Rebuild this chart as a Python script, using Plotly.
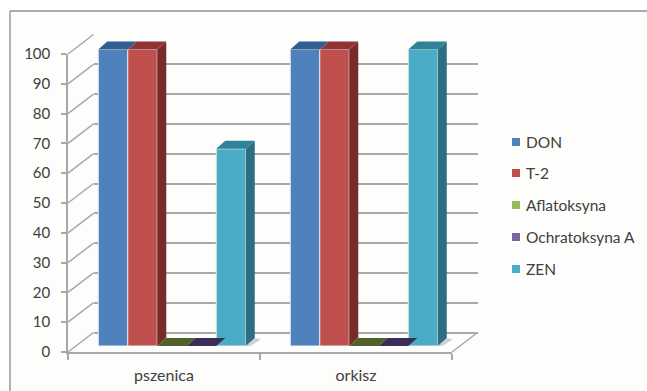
import plotly.graph_objects as go

# Chart data
categories = ["pszenica", "orkisz"]
series_names = ["DON", "T-2", "Aflatoksyna", "Ochratoksyna A", "ZEN"]
don = [100, 100]
t2 = [100, 100]
aflatoksyna = [0, 0]
ochratoksyna = [0, 0]
zen = [66.5, 100]
series_values = [don, t2, aflatoksyna, ochratoksyna, zen]

front_colors = ["#4f81bd", "#c0504d", "#9bbb59", "#8064a2", "#4bacc6"]
top_colors = ["#2f5f93", "#8f3533", "#4f6228", "#3c2c58", "#2e8496"]
side_colors = ["#2f5f93", "#772c2a", "#4f6228", "#3c2c58", "#2b6e85"]
y_ticks = list(range(0, 101, 10))

# Page and panel geometry, in pixels
W, H = 647, 391
PANEL_L, PANEL_T = 10, 11
FRONT_L, FRONT_R = 68, 452      # front edge of the floor
FRONT_BOTTOM, FRONT_TOP = 352, 54
BACK_DX, BACK_DY = 25.5, -19.5  # back wall relative to front edge
BAR_DX = 8                      # bar faces relative to front edge
BAR_BOTTOM, BAR_TOP = 346, 49.5 # pixel rows of value 0 and value 100 on the bar plane
BAR_DEPTH_X, BAR_DEPTH_Y = 9, 8 # extrusion of each bar
BARGAP = 0.232
BAR_HEADROOM = 10               # value units kept above 100 for the bar tops

GRID = "#a8a8a8"
TEXT = "#404040"
FONT = "Lato"


def px(x):
    return x / W


def py(y):
    return 1 - y / H


def dom_x(shift):
    return [px(FRONT_L + shift), px(FRONT_R + shift)]


def dom_y(shift):
    return [py(FRONT_BOTTOM + shift), py(FRONT_TOP + shift)]


cat_px = (FRONT_R - FRONT_L) / len(categories)
val_px = (FRONT_BOTTOM - FRONT_TOP) / 100
bar_val_px = (BAR_BOTTOM - BAR_TOP) / 100

fig = go.Figure()

# The back wall subplot needs a trace for its grid to be drawn
fig.add_trace(go.Scatter(
    x=[0, 1], y=[None, None], mode="markers", xaxis="x", yaxis="y",
    showlegend=False, hoverinfo="skip",
))

# Bar faces sit on their own plane, between front edge and back wall
for name, vals, col in zip(series_names, series_values, front_colors):
    fig.add_trace(go.Bar(
        x=list(range(len(categories))), y=vals, name=name,
        marker=dict(color=col, line=dict(color="#e6e9ee", width=1)),
        xaxis="x2", yaxis="y2", showlegend=False,
    ))

# Extruded top and side faces derived from the same values
dep_x = BAR_DEPTH_X / cat_px
dep_y = BAR_DEPTH_Y / bar_val_px
bar_w = (1 - BARGAP) / len(series_names)


def face(xs, ys, color):
    fig.add_trace(go.Scatter(
        x=xs, y=ys, mode="lines", fill="toself", fillcolor=color,
        line=dict(width=0, color=color), xaxis="x2", yaxis="y2",
        cliponaxis=False, showlegend=False, hoverinfo="skip",
    ))


for s, vals in enumerate(series_values):
    for c, v in enumerate(vals):
        left = c + (s - (len(series_names) - 1) / 2) * bar_w - bar_w / 2
        right = left + bar_w
        # A side face only shows when the next bar is not as tall
        next_v = series_values[s + 1][c] if s + 1 < len(series_values) else 0
        if v > next_v:
            if s == len(series_values) - 1:
                # Soft shadow cast on the floor
                face([right, right + 0.5 * dep_x, right + 1.7 * dep_x, right + dep_x, right],
                     [0, 0, 0.85 * dep_y, dep_y, 0], "#cfcfcf")
            face([right, right + dep_x, right + dep_x, right, right],
                 [0, dep_y, v + dep_y, v, 0], side_colors[s])
        face([left, right, right + dep_x, left + dep_x, left],
             [v, v, v + dep_y, v + dep_y, v], top_colors[s])

# Anchor the front axes to a trace so the category ticks are drawn
fig.add_trace(go.Scatter(
    x=categories, y=[None, None], mode="markers", xaxis="x3", yaxis="y3",
    showlegend=False, hoverinfo="skip",
))

# Panel background with its left and top rules
shapes = [
    dict(type="rect", xref="paper", yref="paper", layer="below",
         x0=px(PANEL_L), x1=1, y0=py(H - 3), y1=py(PANEL_T),
         fillcolor="#fdfdfb", line=dict(width=0)),
    dict(type="line", xref="paper", yref="paper", layer="below",
         x0=px(PANEL_L), x1=px(PANEL_L), y0=0, y1=py(PANEL_T),
         line=dict(color="#9a9a9a", width=1.5)),
    dict(type="line", xref="paper", yref="paper", layer="below",
         x0=px(PANEL_L), x1=1, y0=py(PANEL_T), y1=py(PANEL_T),
         line=dict(color="#8f8f8f", width=1.5)),
]

# Side wall and floor lines, drawn under the bars
for t in y_ticks:
    y = FRONT_BOTTOM - t * val_px
    shapes.append(dict(
        type="line", xref="paper", yref="paper", layer="below",
        x0=px(FRONT_L), y0=py(y), x1=px(FRONT_L + BACK_DX), y1=py(y + BACK_DY),
        line=dict(color=GRID, width=1.5),
    ))
shapes.append(dict(
    type="line", xref="paper", yref="paper", layer="below",
    x0=px(FRONT_R), y0=py(FRONT_BOTTOM),
    x1=px(FRONT_R + BACK_DX), y1=py(FRONT_BOTTOM + BACK_DY),
    line=dict(color=GRID, width=1.5),
))

# Legend entries
legend_y = [142, 173, 205, 237, 269]
annotations = []
for name, col, y in zip(series_names, front_colors, legend_y):
    shapes.append(dict(
        type="rect", xref="paper", yref="paper", layer="above",
        x0=px(512), x1=px(520), y0=py(y + 4), y1=py(y - 4),
        fillcolor=col, line=dict(width=0),
    ))
    annotations.append(dict(
        x=px(524), y=py(y), xref="paper", yref="paper", text=name,
        showarrow=False, xanchor="left", yanchor="middle",
        font=dict(family=FONT, size=15.5, color=TEXT),
    ))

fig.update_layout(
    width=W, height=H,
    margin=dict(l=0, r=0, t=0, b=0),
    paper_bgcolor="#ffffff",
    plot_bgcolor="rgba(0,0,0,0)",
    barmode="group", bargap=BARGAP, bargroupgap=0,
    showlegend=False,
    shapes=shapes, annotations=annotations,
    # Back wall with its horizontal grid
    xaxis=dict(domain=dom_x(BACK_DX), range=[-0.5, 1.5], visible=False,
               anchor="y", automargin=False),
    yaxis=dict(domain=dom_y(BACK_DY), range=[0, 100], anchor="x", automargin=False,
               tickvals=y_ticks, showticklabels=False, ticks="",
               showgrid=True, gridcolor=GRID, gridwidth=1.5,
               showline=False, zeroline=True, zerolinecolor=GRID, zerolinewidth=1.5),
    # Plane of the bar faces, with headroom for the extruded tops
    xaxis2=dict(domain=dom_x(BAR_DX), range=[-0.5, 1.5], visible=False,
                anchor="y2", automargin=False),
    yaxis2=dict(domain=[py(BAR_BOTTOM), py(BAR_TOP - BAR_HEADROOM * bar_val_px)],
                range=[0, 100 + BAR_HEADROOM],
                visible=False, anchor="x2", automargin=False),
    # Front axes with ticks and labels
    xaxis3=dict(domain=dom_x(0), type="category", categoryorder="array",
                categoryarray=categories, range=[-0.5, 1.5], anchor="y3", automargin=False,
                tickson="boundaries", ticks="outside", ticklen=6, tickwidth=1.5,
                tickcolor=GRID, showline=True, linecolor=GRID, linewidth=1.5,
                showgrid=False, zeroline=False, ticklabelstandoff=8,
                tickfont=dict(family=FONT, size=16, color=TEXT)),
    yaxis3=dict(domain=dom_y(0), range=[0, 100], anchor="x3", automargin=False,
                tickvals=y_ticks, ticks="outside", ticklen=5, tickwidth=1.5,
                tickcolor=GRID, showline=True, linecolor=GRID, linewidth=1.5,
                showgrid=False, zeroline=False, ticklabelstandoff=8,
                tickfont=dict(family=FONT, size=15, color=TEXT)),
)

fig.write_html("out.html", config=dict(displayModeBar=False))
